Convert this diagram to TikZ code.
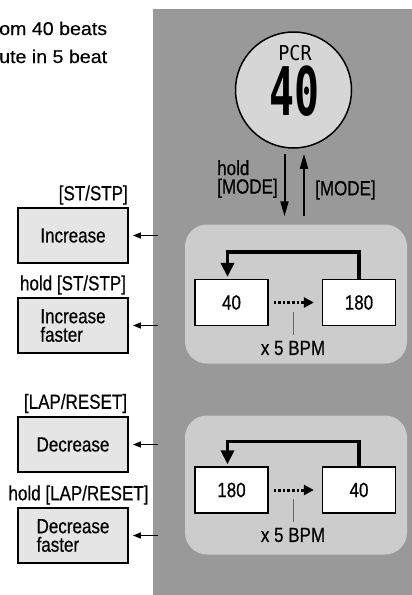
\documentclass[tikz,border=0pt]{standalone}
\usepackage{fontspec}
\setmainfont[FakeStretch=0.83,FakeBold=0.5]{Liberation Sans}
\newfontfamily\topfont[FakeStretch=1.06,FakeBold=0.4]{Liberation Sans}
\newfontfamily\lcdsmall[FakeStretch=0.9]{DejaVu Sans Mono}
\newfontfamily\lcdbig[FakeStretch=0.62]{DejaVu Sans Mono}
\usepackage{tikz}
\usetikzlibrary{arrows.meta}

\definecolor{panelgray}{gray}{0.6}
\definecolor{modegray}{gray}{0.8}
\definecolor{dialgray}{gray}{0.84}
\definecolor{keygray}{gray}{0.9}

\begin{document}
\begin{tikzpicture}
      % Set up styles
      [x=1pt, y=-1pt,
       every node/.style={font=\fontsize{20.5}{18.5}\selectfont, inner sep=0pt},
       modebox/.style={fill=modegray, rounded corners=22pt, minimum width=222pt, minimum height=139pt},
       bpmbox/.style={draw, line width=1.3pt, fill=white, minimum width=73pt, minimum height=46pt},
       keybox/.style={draw, line width=1.8pt, fill=keygray, minimum width=110pt, minimum height=55pt, align=left},
       modearrow/.style={line width=2pt, -{Triangle[length=15pt,width=8pt]}},
       keyarrow/.style={line width=1.4pt, -{Triangle[length=8pt,width=6pt]}, shorten >=4pt},
       looparrow/.style={line width=3.5pt, -{Triangle[length=14pt,width=13pt]}, shorten >=2pt},
       steparrow/.style={line width=3pt, dash pattern=on 2.6pt off 2pt, -{Triangle[length=10pt,width=10pt]}, shorten <=5pt, shorten >=8pt},
       bpmtick/.style={gray!80!black, line width=0.8pt}]

      \useasboundingbox (0,0) rectangle (412,595);
      \fill[panelgray] (153,9) rectangle (412,595);

      % Set up nodes
      \node[circle, draw, line width=1.5pt, fill=dialgray, minimum size=116pt] (dial) at (293.5,90) {};
      \node (pcr) at (295,53) {\lcdsmall\fontsize{20.5}{20.5}\selectfont PCR};
      \node (pcrval) at (294.5,91) {\lcdbig\bfseries\fontsize{67}{67}\selectfont 40};

      \node[modebox] (upbox) at (296,294) {};
      \node[modebox] (downbox) at (296,485) {};

      \node[bpmbox] (min1) at (231.5,302.5) {40};
      \node[bpmbox] (max1) at (359,302.5) {180};
      \node[bpmbox] (max2) at (231.5,490) {180};
      \node[bpmbox] (min2) at (359,490) {40};
      \node (bpm1) at (293,348) {x 5 BPM};
      \node (bpm2) at (293,535) {x 5 BPM};

      \node[align=left, anchor=west] (holdmode) at (217,179) {hold\\{[MODE]}};
      \node[anchor=west] (mode) at (315,190) {[MODE]};

      \node[keybox] (inc) at (73,235.5) {Increase};
      \node[keybox] (incfast) at (73,325.5) {Increase\\faster};
      \node[keybox] (dec) at (73,444.5) {Decrease};
      \node[keybox] (decfast) at (73,535.5) {Decrease\\faster};

      \node[anchor=east] (incl) at (128,195) {[ST/STP]};
      \node (incfastl) at (73,285) {hold [ST/STP]};
      \node (decl) at (75.5,403.5) {[LAP/RESET]};
      \node (decfastl) at (78.5,495) {hold [LAP/RESET]};

      \node[font=\topfont\fontsize{18.5}{18.5}\selectfont, anchor=base west] (top1) at (-1,35) {om 40 beats};
      \node[font=\topfont\fontsize{18.5}{18.5}\selectfont, anchor=base west] (top2) at (-1,63) {ute in 5 beat};

      % Draw arrows
      \coordinate (holdin) at ([xshift=-9pt]dial.south);
      \coordinate (modeout) at ([xshift=10.5pt]dial.south);
      \draw[modearrow, shorten <=5pt, shorten >=8pt] (holdin) -- (holdin |- upbox.north);
      \draw[modearrow, shorten <=8pt, shorten >=5pt] (modeout |- upbox.north) -- (modeout);

      \draw[looparrow] (max1.north) -- ++(0,-27) -| ([xshift=-4pt]min1.north);
      \draw[looparrow] (min2.north) -- ++(0,-25) -| ([xshift=-4pt]max2.north);
      \draw[steparrow] (min1) -- (max1);
      \draw[steparrow] (max2) -- (min2);
      \draw[bpmtick] ([yshift=6pt]bpm1.north) -- ++(0,-23);
      \draw[bpmtick] ([yshift=6pt]bpm2.north) -- ++(0,-23);

      \foreach \k in {inc,incfast,dec,decfast}
        \draw[keyarrow] ([xshift=29pt]\k.east) -- (\k);

\end{tikzpicture}
\end{document}
